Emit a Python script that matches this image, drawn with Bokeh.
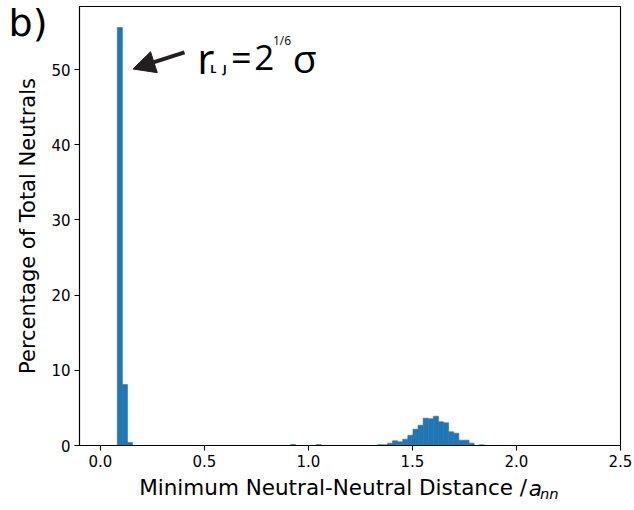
from bokeh.plotting import figure
from bokeh.models import (Range1d, FixedTicker, PrintfTickFormatter, Label, Arrow, NormalHead,
                          ColumnDataSource, LinearAxis)
from bokeh.embed import file_html
from bokeh.resources import INLINE

bin_width = 0.0245
bin_left = [0.0816, 0.1061, 0.1306, 0.9146, 1.0371,
            1.3311, 1.3556, 1.3801, 1.4046, 1.4291, 1.4536, 1.4781, 1.5026, 1.5271,
            1.5516, 1.5761, 1.6006, 1.6251, 1.6496, 1.6741, 1.6986, 1.7231, 1.7476,
            1.7721, 1.8211]
percent = [55.6, 8.1, 0.4, 0.13, 0.13,
           0.09, 0.09, 0.31, 0.62, 0.49, 0.84, 1.37, 2.17, 2.7,
           3.63, 3.55, 3.9, 3.15, 3.01, 1.82, 1.64, 0.71, 0.71,
           0.31, 0.09]
x_ticks = [0.0, 0.5, 1.0, 1.5, 2.0, 2.5]
y_ticks = [0, 10, 20, 30, 40, 50]

src = ColumnDataSource(dict(left=bin_left,
                            right=[l + bin_width for l in bin_left],
                            top=percent))

p = figure(width=634, height=510, output_backend="svg", toolbar_location=None,
           x_range=Range1d(-0.1, 2.5), y_range=Range1d(0, 58.4),
           min_border_left=79, min_border_right=14, min_border_top=6, min_border_bottom=65)
p.outline_line_color = "black"
p.outline_line_width = 1.1
p.grid.visible = False

p.quad(left="left", right="right", top="top", bottom=0, source=src,
       fill_color="#1f77b4", line_color="#1f77b4", line_width=0.6)

for ax in (p.xaxis[0], p.yaxis[0]):
    ax.axis_line_color = "black"
    ax.axis_line_width = 1.1
    ax.major_tick_out = 5
    ax.major_tick_in = 0
    ax.major_tick_line_width = 1.1
    ax.minor_tick_line_color = None
    ax.major_label_text_font = "DejaVu Sans"
    ax.major_label_text_font_size = "15px"
    ax.major_label_text_color = "black"
    ax.major_label_standoff = 4

p.xaxis.ticker = FixedTicker(ticks=x_ticks)
p.xaxis.formatter = PrintfTickFormatter(format="%.1f")
p.yaxis.ticker = FixedTicker(ticks=y_ticks)

p.yaxis.axis_label = "Percentage of Total Neutrals"
p.yaxis.axis_label_text_font = "DejaVu Sans"
p.yaxis.axis_label_text_font_size = "21px"
p.yaxis.axis_label_text_font_style = "normal"
p.yaxis.axis_label_text_color = "black"
p.yaxis.axis_label_standoff = 8


def text_axis(pos, text, size, style, standoff, side):
    """An axis with no line/ticks that only carries one text label."""
    ax = LinearAxis(ticker=FixedTicker(ticks=[pos]), major_label_overrides={pos: text})
    ax.axis_line_color = None
    ax.major_tick_line_color = None
    ax.minor_tick_line_color = None
    ax.major_tick_out = 0
    ax.major_tick_in = 0
    ax.minor_tick_out = 0
    ax.major_label_text_font = "DejaVu Sans"
    ax.major_label_text_font_size = size
    ax.major_label_text_font_style = style
    ax.major_label_text_color = "black"
    ax.major_label_standoff = standoff
    p.add_layout(ax, side)
    return ax


# x-axis title split into pieces: main text, italic "a", subscript "nn"
xlabel_main, xlabel_var, xlabel_sub = "Minimum Neutral-Neutral Distance /", "a", "nn"
text_axis(1.119, xlabel_main, "21.5px", "normal", 5, "below")
text_axis(2.091, xlabel_var, "21.5px", "italic", -27, "below")
text_axis(2.158, xlabel_sub, "14.7px", "italic", -19, "below")

# panel letter
text_axis(56.2, "b)", "38px", "normal", -34, "left")

ann_font = "Open Sans"
p.add_layout(Label(x=0.4655, y=51.6, text="r", text_font=ann_font, text_font_size="42px",
                   text_baseline="alphabetic", text_color="black"))
p.add_layout(Label(x=0.528, y=50.2, text="L", text_font=ann_font, text_font_size="11px",
                   text_font_style="bold", text_baseline="alphabetic", text_color="black"))
p.add_layout(Label(x=0.590, y=50.2, text="J", text_font=ann_font, text_font_size="11px",
                   text_font_style="bold", text_baseline="alphabetic", text_color="black"))
p.add_layout(Label(x=0.6286, y=51.6, text="=", text_font=ann_font, text_font_size="36px",
                   text_baseline="alphabetic", text_color="black"))
p.add_layout(Label(x=0.740, y=51.6, text="2", text_font=ann_font, text_font_size="35px",
                   text_baseline="alphabetic", text_color="black"))
p.add_layout(Label(x=0.830, y=53.86, text="1/6", text_font=ann_font, text_font_size="12px",
                   text_baseline="alphabetic", text_color="black"))
p.add_layout(Label(x=0.925, y=51.6, text="σ", text_font=ann_font, text_font_size="39px",
                   text_baseline="alphabetic", text_color="black"))

p.add_layout(Arrow(end=NormalHead(size=22, fill_color="#231f20", line_color="#231f20"),
                   x_start=0.4045, y_start=52.3, x_end=0.157, y_end=50.09,
                   line_width=4, line_color="#231f20"))

open("out.html", "w").write(file_html(p, INLINE))
